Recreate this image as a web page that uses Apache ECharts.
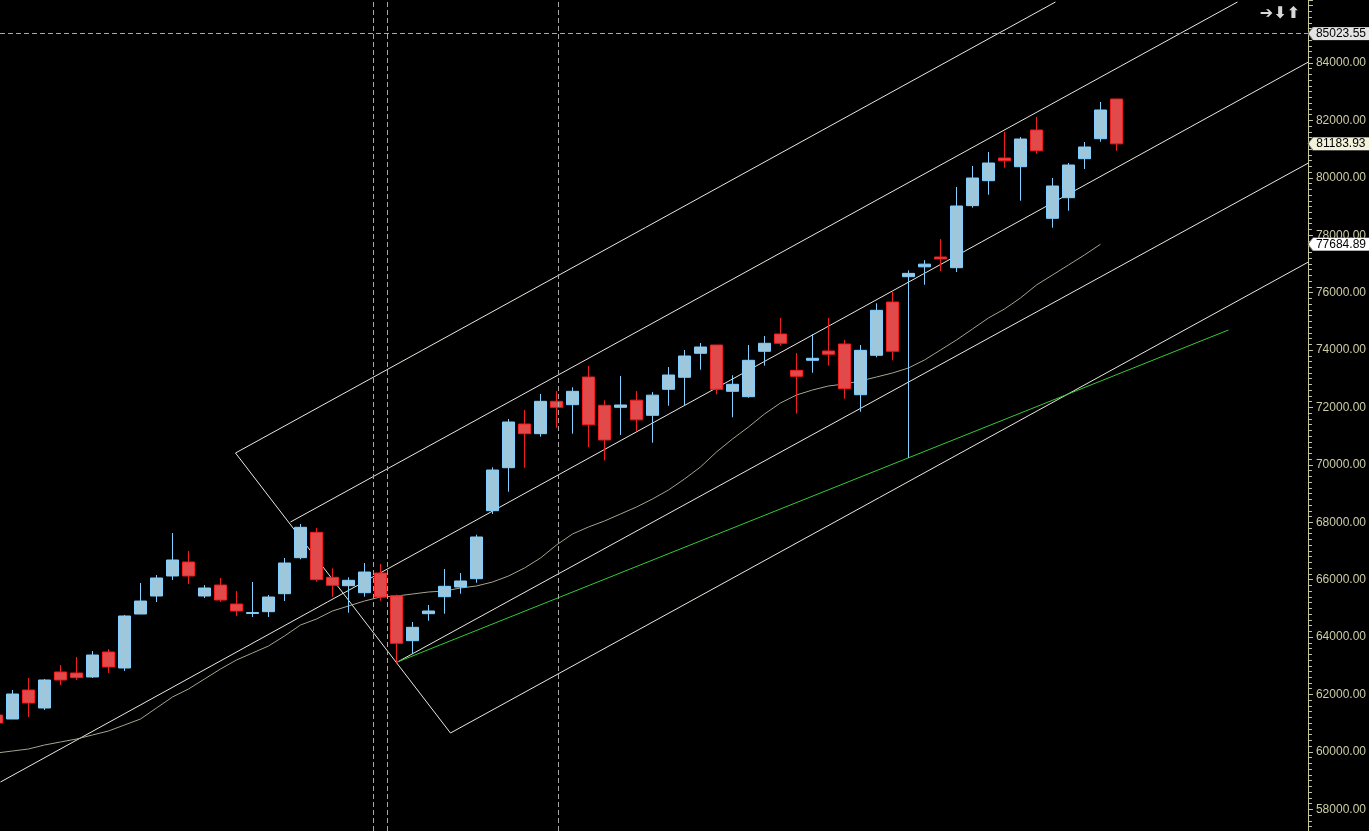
<!DOCTYPE html>
<html>
<head>
<meta charset="utf-8">
<script src="https://cdn.jsdelivr.net/npm/echarts@6/dist/echarts.min.js"></script>
<style>
html,body{margin:0;padding:0;background:#000;}
#chart{width:1369px;height:831px;}
</style>
</head>
<body>
<div id="chart"></div>
<script>
// ---- data (price candles, one per bar slot) ----
const opens  = [61284,61145,62155,61528,62783,62748,62609,63479,62922,64803,65430,66128,66615,65430,65813,65151,64821,64884,65510,66765,67649,66081,65789,65545,66231,65440,63873,64814,65406,65744,66033,68402,69900,71423,71085,72213,72095,73060,72075,72004,72254,71725,72631,73050,73886,74175,72562,72374,73956,74558,73293,73642,73967,74210,72443,73816,75673,76555,76898,77241,76868,79030,79900,80690,80387,81666,78589,79307,80666,81363,82746];
const closes = [61005,62016,61702,62504,62504,62585,63374,62957,64734,65255,66058,66685,66128,65709,65290,64907,64856,65395,66580,67824,66000,65802,65977,66266,65395,63782,64340,64908,65768,65953,67486,69820,71493,71085,72213,72004,72562,71399,70866,72085,71567,72428,73130,73792,74105,72631,72806,73642,74235,74235,73084,73712,73852,72653,73990,75384,73956,76671,76992,77172,79018,79993,80516,80596,81352,80944,79715,80446,81074,82363,81183.93];
const lows   = [60900,61145,61214,61459,62330,62504,62574,62748,62818,64803,65221,65987,65849,65360,65221,64734,64699,64699,65256,66709,65928,65406,64848,65406,65266,63106,63410,64570,64814,65510,65893,68286,69064,69900,70980,71294,71085,70615,70154,71040,71179,70771,72060,72050,73315,72457,71657,72338,73456,74151,71782,73210,73456,72304,71851,73746,73642,70238,76276,76753,76718,78959,79412,80352,79202,80840,78262,78854,80307,81258,80944];
const highs  = [61400,62155,62573,62539,63027,63306,63514,63584,64769,65883,66162,67625,67000,65813,66058,65604,65918,65465,66754,67939,67799,66395,66081,66580,66545,65480,64525,65117,66371,66231,67566,69914,71597,71911,72468,72572,72702,73443,72245,73095,72572,72533,73408,74001,74245,74175,73120,74175,74489,75116,73896,74558,75116,74349,74175,75628,76057,76777,77131,77868,79680,80412,80900,81596,81422,82119,79994,80516,81248,82641,82746];
// moving average (grey curve), one value per candle slot from the first
const maValues = [59960,60030,60100,60239,60344,60448,60588,60727,60936,61145,61528,61912,62190,62539,62887,63201,63444,63688,64037,64420,64629,64908,65082,65256,65396,65430,65500,65570,65605,65709,65779,65918,66127,66406,66754,67207,67590,67834,68043,68287,68531,68810,69123,69507,69925,70447,70900,71318,71771,72154,72433,72607,72747,72816,72921,73060,73200,73374,73653,74001,74349,74733,75116,75429,75813,76266,76614,76962,77311,77684.89];
// drawn trend lines: [slot, price] endpoints
const whiteLines = [
  [[14.9375,70412],[66.1875,86125]],
  [[18.375,68009],[77.5625,86125]],
  [[0.25,58950],[82,84035]],
  [[25.0625,63131],[82,80516]],
  [[28.375,60657],[82,77067]],
  [[14.9375,70412],[28.375,60657]]
];
const greenLine = [[25.0625,63131],[77,74698]];
const verticalMarks = [23.5625,24.4375,35.125];
const priceTags = [85023.55,81183.93,77684.89];
const tagColors = ['#e4e4e4','#f3f1d9','#ffffff'];
const dashedLevel = 85023.55;
const hiddenLabelsAbove = 85500;
const yMin = 57243, yMax = 86195;
const xMin = 0.21875, xMax = 81.96875;

const candleData = opens.map((o,i)=>[i,o,closes[i],lows[i],highs[i]]);
const maData = maValues.map((v,i)=>[i,v]);

const series = [];
whiteLines.forEach(l=>{
  series.push({type:'line',data:l,symbol:'none',silent:true,clip:true,
    lineStyle:{color:'#e8e8e0',width:1},z:1});
});
series.push({type:'line',data:greenLine,symbol:'none',silent:true,clip:true,
  lineStyle:{color:'#33cc33',width:1},z:1});
series.push({type:'line',data:maData,symbol:'none',silent:true,clip:true,
  lineStyle:{color:'#a4a490',width:1},z:1});
series.push({
  type:'candlestick',
  data:candleData,
  encode:{x:0,y:[1,2,3,4]},
  barWidth:12,
  z:3,
  itemStyle:{color:'#9fc7dc',color0:'#e04a4a',borderColor:'#80cfff',borderColor0:'#f01e1e',borderWidth:1},
  markLine:{
    silent:true,symbol:'none',animation:false,
    label:{show:false},
    lineStyle:{color:'#a8a8a8',type:[5,3],width:1},
    data:verticalMarks.map(v=>({xAxis:v})).concat([{yAxis:dashedLevel}])
  }
});
series.push({
  type:'line',data:[],clip:false,z:10,
  markPoint:{
    silent:true,animation:false,
    symbol:'path://M0,6 L5,0 L62,0 L62,12 L5,12 Z',
    symbolSize:[62,13],
    symbolOffset:[31,0],
    symbolKeepAspect:false,
    label:{show:true,position:'inside',offset:[2,0],color:'#000',fontFamily:'Liberation Sans',fontSize:12,
      formatter:p=>Number(p.value).toFixed(2)},
    data:priceTags.map((v,i)=>({coord:[xMax,v],value:v,itemStyle:{color:tagColors[i],borderColor:'#777',borderWidth:0.5}}))
  }
});

const chart = echarts.init(document.getElementById('chart'),null,{renderer:'canvas'});
chart.setOption({
  backgroundColor:'#000',
  animation:false,
  title:{text:'➔⬇⬆',right:64,top:1,textStyle:{color:'#d8d8d8',fontSize:16,fontFamily:'DejaVu Sans',fontWeight:'bold'}},
  grid:{left:0,right:61,top:0,bottom:0,containLabel:false},
  xAxis:{type:'value',min:xMin,max:xMax,show:false,splitLine:{show:false}},
  yAxis:{
    type:'value',position:'right',min:yMin,max:yMax,splitNumber:14,scale:true,
    splitLine:{show:false},
    axisLine:{show:true,lineStyle:{color:'#c8c8a0',width:1}},
    axisTick:{show:true,length:5,lineStyle:{color:'#c8c8a0'}},
    minorTick:{show:true,splitNumber:10,length:4,lineStyle:{color:'#c8c8a0'}},
    axisLabel:{color:'#cdcda5',fontFamily:'Liberation Sans',fontSize:12,margin:8,
      showMinLabel:false,showMaxLabel:false,
      formatter:v=>v > hiddenLabelsAbove ? '' : v.toFixed(2)}
  },
  series:series
});
</script>
</body>
</html>
